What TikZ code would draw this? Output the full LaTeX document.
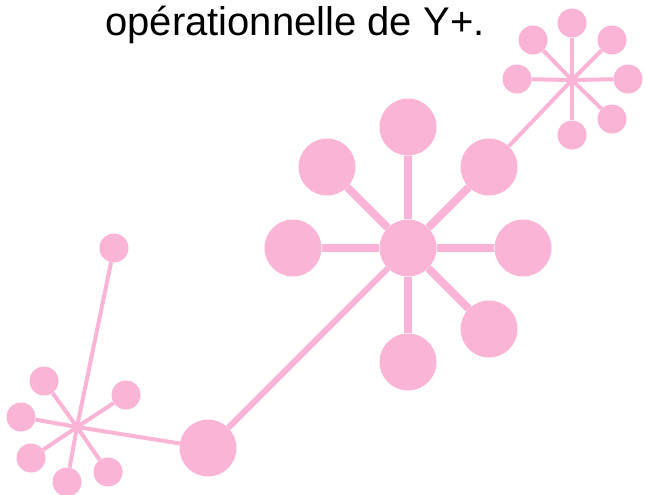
\documentclass[tikz,border=0pt]{standalone}
\usepackage{fontspec}
\setmainfont{Liberation Sans}
\usetikzlibrary{positioning}

\definecolor{pinkish}{RGB}{249,180,214}

\begin{document}
\begin{tikzpicture}[
    x=1pt, y=-1pt,
    big/.style={circle, fill=pinkish, minimum size=57pt, inner sep=0pt},
    small/.style={circle, fill=pinkish, minimum size=29pt, inner sep=0pt},
    fat/.style={draw=pinkish, line width=8pt},
    mid/.style={draw=pinkish, line width=6pt},
    thin/.style={draw=pinkish, line width=4pt}
]
\useasboundingbox (0,0) rectangle (645,495);

% titre
\node[font=\fontsize{40}{46}\selectfont, anchor=base, inner sep=0pt] (title) at (295,36) {opérationnelle de Y+.};

% étoile centrale
\node[big] (hub) at (408,248) {};
\node[big] (h1) at (408,127) {};
\node[big] (h2) at (327,167) {};
\node[big] (h3) at (293,248) {};
\node[big] (h4) at (523,248) {};
\node[big] (h5) at (489,167) {};
\node[big] (h6) at (489,329) {};
\node[big] (h7) at (408,362) {};
\node[big] (link) at (208,448) {};

% étoile en haut à droite
\coordinate (tr) at (572,80);
\node[small] (t1) at (572,23) {};
\node[small] (t2) at (533,40) {};
\node[small] (t3) at (612,40) {};
\node[small] (t4) at (517,79) {};
\node[small] (t5) at (628,79) {};
\node[small] (t6) at (612,119) {};
\node[small] (t7) at (572,135) {};

% étoile en bas à gauche
\coordinate (bl) at (77,427);
\node[small] (b1) at (114,248) {};
\node[small] (b2) at (44,381) {};
\node[small] (b3) at (126,395) {};
\node[small] (b4) at (21,417) {};
\node[small] (b5) at (31,458) {};
\node[small] (b6) at (67,482) {};
\node[small] (b7) at (108,472) {};

% liens
\foreach \n in {h1,h2,h3,h4,h5,h6,h7}
    \draw[fat] (hub) -- (\n);
\draw[mid] (hub) -- (link);
\draw[thin] (h5) -- (tr);
\foreach \n in {t1,t2,t3,t4,t5,t6,t7}
    \draw[thin] (tr) -- (\n);
\draw[thin] (link) -- (bl);
\foreach \n in {b1,b2,b3,b4,b5,b6,b7}
    \draw[thin] (bl) -- (\n);

\end{tikzpicture}
\end{document}
